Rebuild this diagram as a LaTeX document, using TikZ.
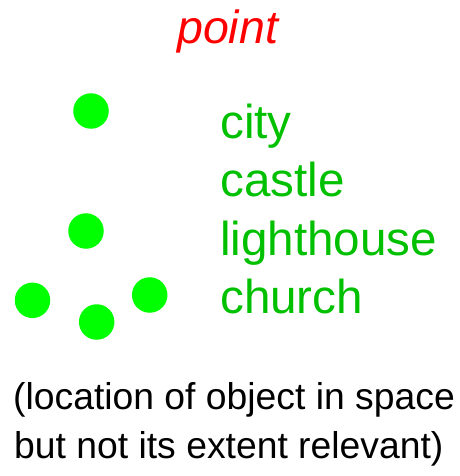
\documentclass[tikz,border=0pt]{standalone}
\usepackage{fontspec}
\setmainfont{Liberation Sans}
\definecolor{dotgreen}{RGB}{0,255,0}
\definecolor{txtgreen}{RGB}{0,192,0}
\begin{document}
\begin{tikzpicture}[x=1pt,y=-1pt,
  dot/.style={circle,fill=dotgreen,draw=none,minimum size=35.5pt,inner sep=0pt},
  lbl/.style={anchor=base west,inner sep=0pt,text=txtgreen,font=\fontsize{47.6}{54}\selectfont},
  note/.style={anchor=base west,inner sep=0pt,text=black,font=\fontsize{37.3}{44}\selectfont}]
\useasboundingbox (0,0) rectangle (459,476);
\node[anchor=base west,inner sep=0pt,text=red,font=\fontsize{46.5}{54}\itshape\selectfont] (title) at (177,43.3) {point};
\node[dot] (d1) at (91,111) {};
\node[dot] (d2) at (86,231) {};
\node[dot] (d3) at (32.5,300.3) {};
\node[dot] (d4) at (96.7,322) {};
\node[dot] (d5) at (149.7,295) {};
\node[lbl] (city) at (220,138) {city};
\node[lbl] (castle) at (220,196.5) {castle};
\node[lbl] (lighthouse) at (220,255) {lighthouse};
\node[lbl] (church) at (220,313.3) {church};
\node[note] (n1) at (13,409.3) {(location of object in space};
\node[note] (n2) at (14,458) {but not its extent relevant)};
\end{tikzpicture}
\end{document}
